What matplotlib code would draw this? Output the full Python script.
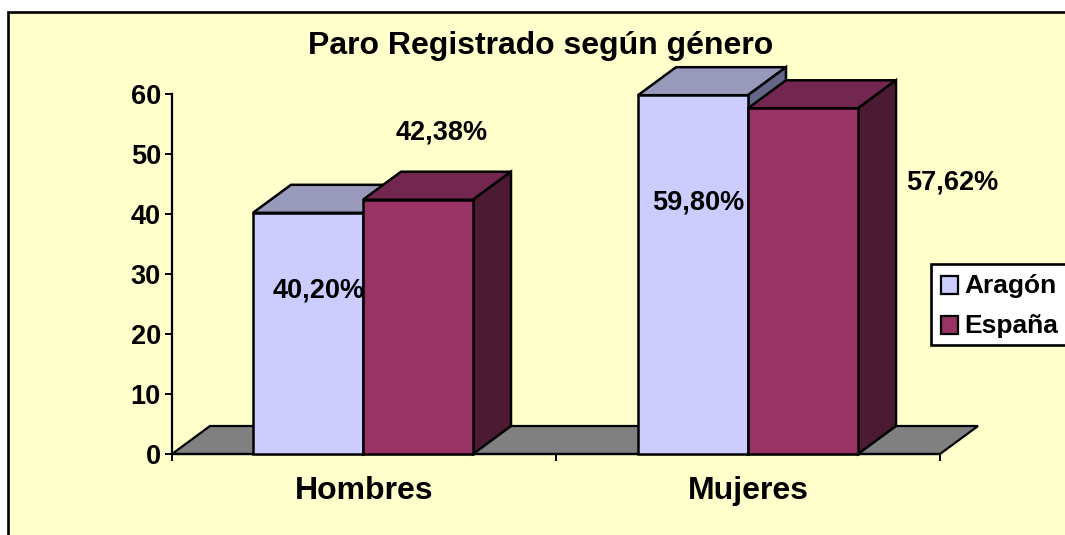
import matplotlib
matplotlib.use("Agg")
import matplotlib.pyplot as plt
from matplotlib.patches import Polygon, Rectangle

categories = ["Hombres", "Mujeres"]
series_names = ["Aragón", "España"]
aragon = [40.20, 59.80]
espana = [42.38, 57.62]
value_labels = [["40,20%", "59,80%"], ["42,38%", "57,62%"]]
y_ticks = [0, 10, 20, 30, 40, 50, 60]

plt.rcParams['font.family'] = ['Liberation Sans', 'DejaVu Sans']
plt.rcParams['font.weight'] = 'bold'

W, H = 1065, 535
fig = plt.figure(figsize=(W / 100, H / 100), dpi=100, facecolor="white")

# whole figure in pixels, y pointing down, makes the 3d look easier
bg = fig.add_axes([0, 0, 1, 1])
bg.set_xlim(0, W)
bg.set_ylim(H, 0)
bg.axis("off")
bg.add_patch(Rectangle((8, 12), W + 20, H + 20, fc="#FFFFCC", ec="black", lw=1.9))

# plot area: y=0 at 454, y=60 at 94, categories 172-940
x0, x1 = 172, 940
y_base, y_top = 454, 94
dx, dy = 38, -28

ax = fig.add_axes([x0 / W, 1 - y_base / H, (x1 - x0) / W, (y_base - y_top) / H], zorder=2)
ax.set_xlim(0, 2)
ax.set_ylim(0, 60)
ax.patch.set_alpha(0)
for s in ["top", "right"]:
    ax.spines[s].set_visible(False)
for s in ["left", "bottom"]:
    ax.spines[s].set_linewidth(1.6)
ax.set_yticks(y_ticks)
ax.set_yticklabels([str(t) for t in y_ticks], fontsize=19.5, fontweight="bold")
ax.set_xticks([0, 1, 2])
ax.set_xticklabels([])
ax.tick_params(axis="both", length=5, width=1.4, direction="out", pad=3)
for c, name in enumerate(categories):
    ax.text(c + 0.5, -6.15, name, ha="center", va="center", fontsize=23, fontweight="bold")

ux = (x1 - x0) / 2.0
uy = (y_base - y_top) / 60.0
ddx, ddy = dx / ux, -dy / uy


def box(x, w, h, front, top, side):
    ax.add_patch(Polygon([(x, h), (x + ddx, h + ddy), (x + w + ddx, h + ddy), (x + w, h)],
                         fc=top, ec="black", lw=1.8, clip_on=False, zorder=3))
    ax.add_patch(Polygon([(x + w, 0), (x + w + ddx, ddy), (x + w + ddx, h + ddy), (x + w, h)],
                         fc=side, ec="black", lw=1.8, clip_on=False, zorder=3))
    ax.add_patch(Rectangle((x, 0), w, h, fc=front, ec="black", lw=1.8, clip_on=False, zorder=4))


# floor
ax.add_patch(Polygon([(0, 0), (ddx, ddy), (2 + ddx, ddy), (2, 0)], fc="#808080", ec="black",
                     lw=1.6, clip_on=False, zorder=1))

bar_w = 110 / ux
starts = [(253 - x0) / ux, (638 - x0) / ux]
for i in range(2):
    box(starts[i], bar_w, aragon[i], "#CCCCFF", "#9999BB", "#666688")
    box(starts[i] + bar_w, bar_w, espana[i], "#993366", "#732650", "#4D1A33")

# data labels sit where the original chart had them
label_pos = [[(319, 291), (698, 202)], [(442, 132), (952, 182)]]
for s in range(2):
    for i in range(2):
        bg_x, bg_y = label_pos[s][i]
        fig.text(bg_x / W, 1 - bg_y / H, value_labels[s][i], ha="center", va="center",
                 fontsize=19.5, fontweight="bold", zorder=10)

fig.text(541 / W, 1 - 46 / H, "Paro Registrado según género", ha="center", va="center",
         fontsize=23, fontweight="bold", zorder=10)

# legend box
top = fig.add_axes([0, 0, 1, 1], zorder=5)
top.set_xlim(0, W)
top.set_ylim(H, 0)
top.axis("off")
top.add_patch(Rectangle((931, 264), 150, 81, fc="white", ec="black", lw=1.9, clip_on=False))
for y, name, col in zip([285, 325], series_names, ["#CCCCFF", "#993366"]):
    top.add_patch(Rectangle((941, y - 9), 17, 18, fc=col, ec="black", lw=1.6))
    top.text(964, y + 1, name, ha="left", va="center", fontsize=19, fontweight="bold")

fig.savefig("out.png", dpi=100)
